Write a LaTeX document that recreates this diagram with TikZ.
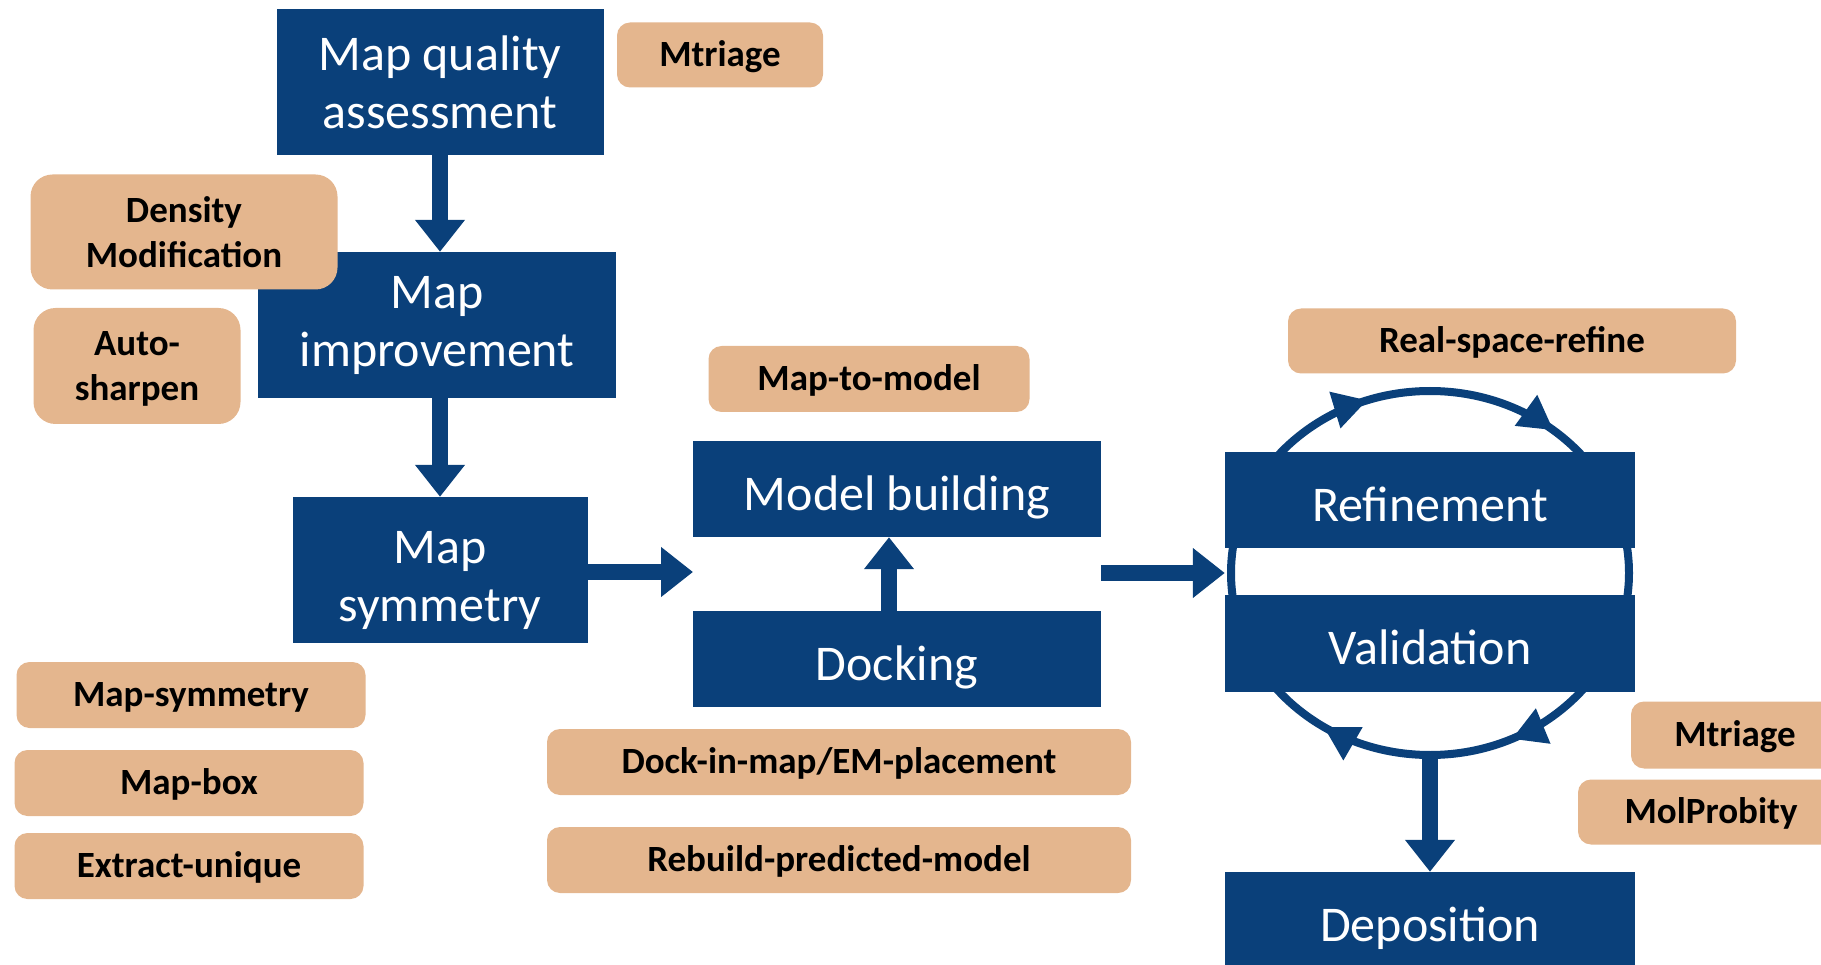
\documentclass[tikz,border=0pt]{standalone}
\usepackage{fontspec}
\setmainfont{Carlito}
\usetikzlibrary{arrows.meta, decorations.markings}
\definecolor{emblue}{RGB}{10,64,122}
\definecolor{emtan}{RGB}{228,182,142}

\begin{document}
\begin{tikzpicture}[x=1pt, y=-1pt,
  stage/.style={fill=emblue, text=white, inner sep=0pt, align=center,
    font=\fontsize{50}{58}\selectfont},
  stageline/.style={stage, text height=42pt, text depth=0pt},
  tool/.style={fill=emtan, text=black, inner sep=0pt, align=center,
    rounded corners=13pt, font=\bfseries\fontsize{37}{45}\selectfont},
  toolline/.style={tool, text height=23pt, text depth=0pt},
  flow/.style={draw=emblue, line width=16pt, -{Triangle[length=32pt, width=48pt]}},
  cyclehead/.tip={Triangle[length=34pt, width=36pt]}
]
\useasboundingbox (0,0) rectangle (1821,965);

% GLOBAL SETTINGS
\newcommand{\rx}{199pt}
\newcommand{\ry}{182pt}

% CYCLE (behind the stages)
\coordinate (cyc) at (1430,573);
\draw[draw=emblue, line width=8pt, postaction={decorate},
  decoration={markings,
    mark=at position 0.197 with {\arrow[emblue]{cyclehead}},
    mark=at position 0.36 with {\arrow[emblue]{cyclehead}},
    mark=at position 0.68 with {\arrow[emblue]{cyclehead}},
    mark=at position 0.843 with {\arrow[emblue]{cyclehead}}}]
  ([xshift=-\rx]cyc) arc[start angle=180, end angle=-180, x radius=\rx, y radius=\ry];

% STAGES
\node[stage, minimum width=327pt, minimum height=146pt] (mqa) at (440,82) {Map quality\\assessment};
\node[stage, minimum width=358pt, minimum height=146pt] (mimp) at (437,325) {Map\\improvement};
\node[stage, minimum width=295pt, minimum height=146pt, text height=102pt, text depth=0pt] (msym) at (440,570) {Map\\symmetry};
\node[stageline, minimum width=408pt, minimum height=96pt] (mb) at (897,489) {Model building};
\node[stageline, minimum width=408pt, minimum height=96pt] (dock) at (897,659) {Docking};
\node[stageline, minimum width=410pt, minimum height=96pt] (ref) at (1430,500) {Refinement};
\node[stageline, minimum width=410pt, minimum height=97pt] (val) at (1430,643) {Validation};
\node[stageline, minimum width=410pt, minimum height=96pt] (dep) at (1430,920) {Deposition};

% ARROWS
\coordinate (mgap) at (693,572);
\coordinate (cycS) at ([yshift=-\ry]cyc);
\draw[flow] (mqa.south) -- (mqa.south |- mimp.north);
\draw[flow] (msym.north |- mimp.south) -- (msym.north);
\draw[flow] (msym.east |- mgap) -- (mgap);
\draw[flow] ([xshift=-8pt]dock.north) -- ([xshift=-8pt]mb.south);
\draw[flow] (mb.east |- cyc) -- (ref.west |- cyc);
\draw[flow] (cycS) -- (dep.north);

% TOOLS
\node[toolline, minimum width=206pt, minimum height=65pt] (mtri1) at (720,55) {Mtriage};
\node[tool, minimum width=307pt, minimum height=115pt, rounded corners=22pt] (dens) at (184,232) {Density\\Modification};
\node[tool, minimum width=207pt, minimum height=116pt, rounded corners=22pt, text height=70pt, text depth=0pt] (auto) at (137,366) {Auto-\\sharpen};
\node[toolline, minimum width=321pt, minimum height=66pt] (m2m) at (869,379) {Map-to-model};
\node[toolline, minimum width=448pt, minimum height=65pt] (rsr) at (1512,341) {Real-space-refine};
\foreach \tname/\tx/\ty/\ttext in {msymt/191/695/Map-symmetry, mbox/189/783/Map-box, extr/189/866/Extract-unique} {
  \node[toolline, minimum width=349pt, minimum height=66pt] (\tname) at (\tx,\ty) {\ttext};
}
\foreach \tname/\ty/\ttext in {dim/762/{Dock-in-map/EM-placement}, rpm/860/{Rebuild-predicted-model}} {
  \node[toolline, minimum width=584pt, minimum height=66pt] (\tname) at (839,\ty) {\ttext};
}
\node[toolline, minimum width=208pt, minimum height=67pt] (mtri2) at (1735,735) {Mtriage};
\node[toolline, minimum width=266pt, minimum height=65pt] (molp) at (1711,812) {MolProbity};

\end{tikzpicture}
\end{document}
